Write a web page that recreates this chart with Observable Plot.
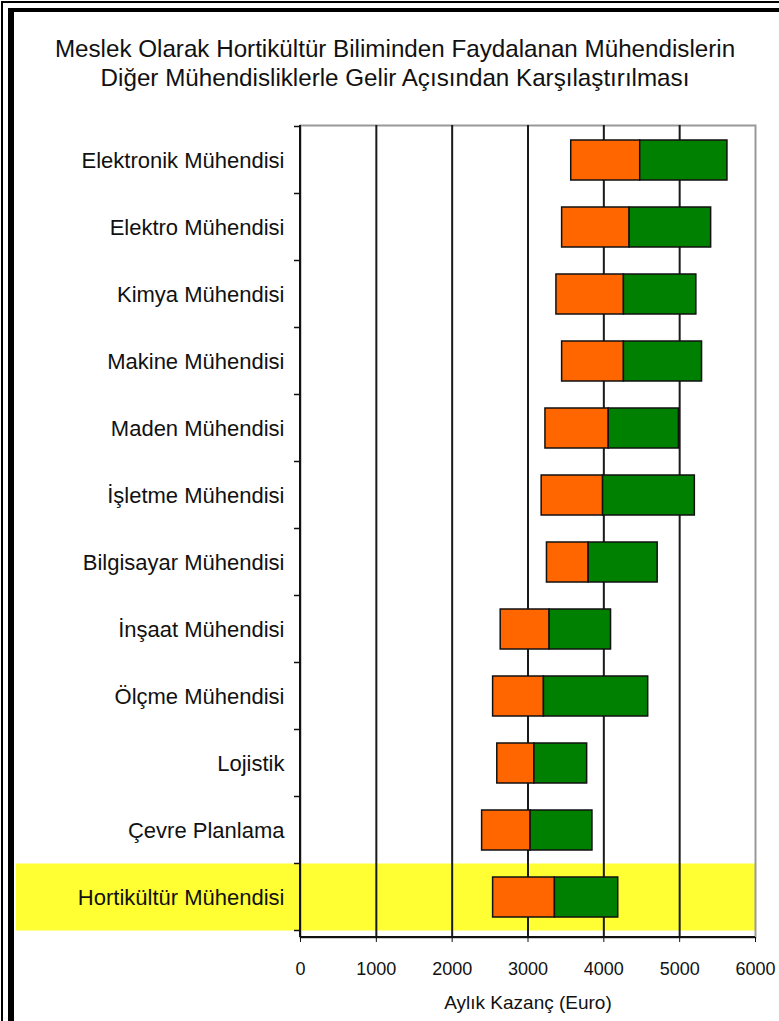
<!DOCTYPE html>
<html><head><meta charset="utf-8">
<script src="https://cdn.jsdelivr.net/npm/d3@7"></script>
<script src="https://cdn.jsdelivr.net/npm/@observablehq/plot@0.6"></script>
<style>
html,body{margin:0;padding:0;background:#fff;}
#wrap{position:relative;width:779px;height:1021px;overflow:hidden;font-family:"Liberation Sans",Arial,sans-serif;}
.b1{position:absolute;left:1px;top:1px;width:820px;height:1100px;border-left:2px solid #000;border-top:2px solid #000;}
.b2{position:absolute;left:8px;top:8px;width:820px;height:1100px;border-left:6px solid #000;border-top:4px solid #000;}
#title{position:absolute;left:10px;width:770px;top:34px;text-align:center;font-size:24.2px;line-height:29px;color:#111;}
#chart{position:absolute;left:0;top:100px;}
</style></head><body>
<div id="wrap"><div class="b1"></div><div class="b2"></div>
<div id="title">Meslek Olarak Hortikültür Biliminden Faydalanan Mühendislerin<br>Diğer Mühendisliklerle Gelir Açısından Karşılaştırılması</div>
<div id="chart"></div></div>
<script>
const categories = ["Elektronik Mühendisi","Elektro Mühendisi","Kimya Mühendisi","Makine Mühendisi","Maden Mühendisi","İşletme Mühendisi","Bilgisayar Mühendisi","İnşaat Mühendisi","Ölçme Mühendisi","Lojistik","Çevre Planlama","Hortikültür Mühendisi"];
const lowValues  = [3570, 3450, 3375, 3450, 3230, 3180, 3250, 2640, 2540, 2595, 2395, 2540];
const midValues  = [4480, 4340, 4265, 4265, 4065, 3990, 3800, 3285, 3210, 3085, 3035, 3355];
const highValues = [5630, 5415, 5220, 5295, 4990, 5200, 4710, 4095, 4585, 3780, 3850, 4190];
const xTicks = [0, 1000, 2000, 3000, 4000, 5000, 6000];
const gridValues = [1000, 2000, 3000, 4000, 5000];
const highlighted = "Hortikültür Mühendisi";
const xLabel = "Aylık Kazanç (Euro)";

const rows = categories.map((c, i) => ({category: c, low: lowValues[i], mid: midValues[i], high: highValues[i]}));

function bandEdge(y, c) { return y(c) - (y.step() - y.bandwidth()) / 2; }

function highlightBand(index, scales, values, dims) {
  const y = scales.y;
  return d3.create("svg:rect")
    .attr("x", 16).attr("width", dims.width - dims.marginRight - 16)
    .attr("y", bandEdge(y, highlighted)).attr("height", y.step())
    .attr("fill", "#ffff33").node();
}

function axisLines(index, scales, values, dims) {
  const x = scales.x, y = scales.y;
  const g = d3.create("svg:g").attr("stroke", "#111").attr("stroke-width", 1.5);
  const edges = categories.map(c => bandEdge(y, c));
  edges.push(edges[edges.length - 1] + y.step());
  const x0 = x(0);
  const yb = dims.height - dims.marginBottom;
  g.append("line").attr("x1", x0).attr("x2", x0).attr("y1", dims.marginTop).attr("y2", yb).attr("stroke-width", 2);
  g.append("line").attr("x1", x0).attr("x2", x(6000)).attr("y1", yb).attr("y2", yb).attr("stroke-width", 2);
  g.selectAll("line.t").data(edges).join("line").attr("class", "t")
    .attr("x1", x0 - 6).attr("x2", x0).attr("y1", d => d).attr("y2", d => d);
  return g.node();
}

const chart = Plot.plot({
  width: 779, height: 921,
  marginTop: 25, marginBottom: 84, marginLeft: 300, marginRight: 24,
  style: {fontFamily: '"Liberation Sans", Arial, sans-serif', color: "#111", background: "transparent", overflow: "visible"},
  x: {domain: [0, 6000]},
  y: {domain: categories, paddingInner: 0.4, paddingOuter: 0.22, align: 0.42},
  marks: [
    highlightBand,
    Plot.frame({stroke: "#999", strokeWidth: 2}),
    Plot.ruleX(gridValues, {stroke: "#1a1a1a", strokeWidth: 2}),
    Plot.barX(rows, {y: "category", x1: "low", x2: "mid", fill: "#ff6600", stroke: "#111", strokeWidth: 1.5}),
    Plot.barX(rows, {y: "category", x1: "mid", x2: "high", fill: "#008000", stroke: "#111", strokeWidth: 1.5}),
    axisLines,
    Plot.axisY({tickSize: 0, tickPadding: 16, fontSize: 22, label: null}),
    Plot.axisX({ticks: xTicks, tickSize: 5, tickPadding: 20, fontSize: 18, tickFormat: d => String(d), label: null}),
    Plot.text([xLabel], {frameAnchor: "bottom", dy: 71, fontSize: 19, fill: "#111"})
  ]
});
document.getElementById("chart").appendChild(chart);
</script>
</body></html>
